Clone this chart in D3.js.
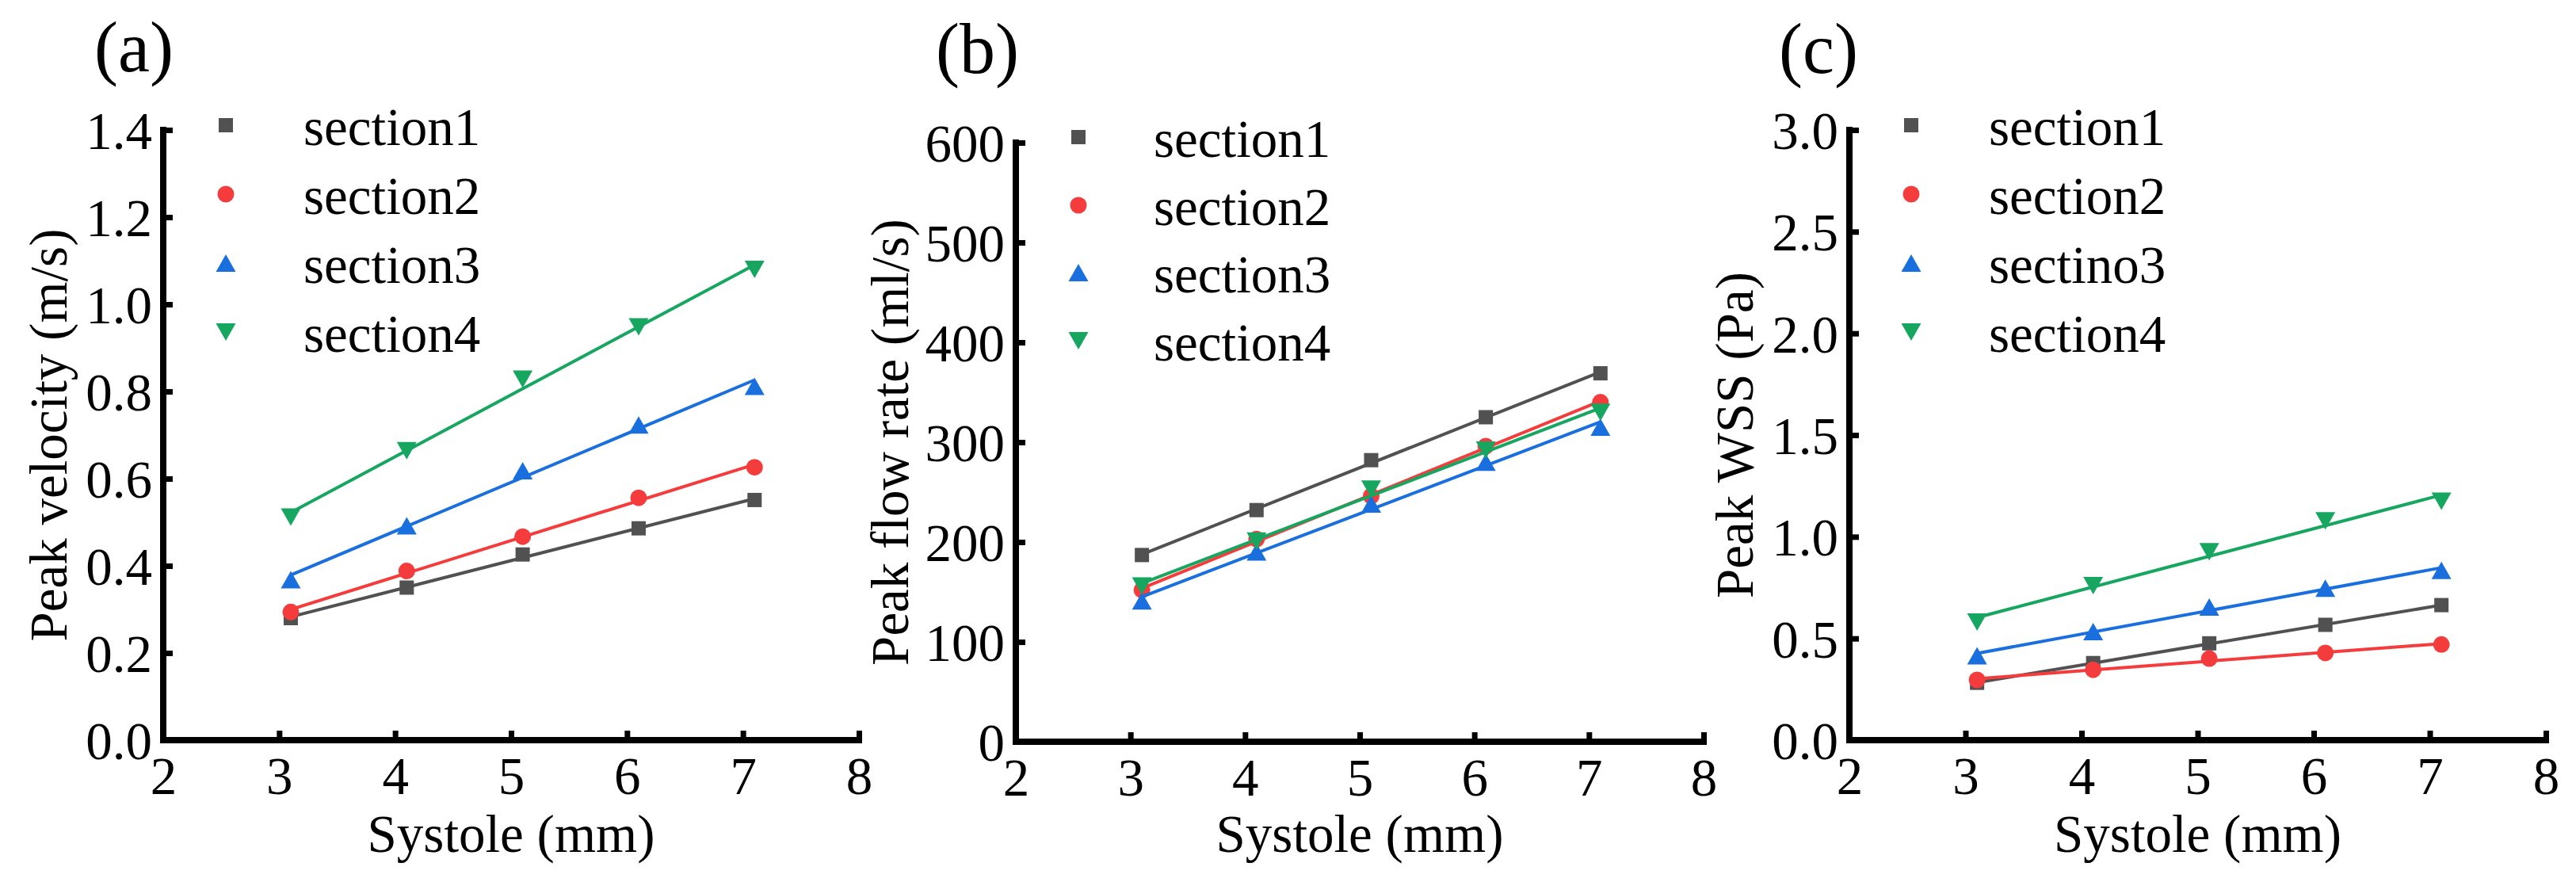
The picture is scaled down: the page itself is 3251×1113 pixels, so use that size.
<!DOCTYPE html>
<html>
<head>
<meta charset="utf-8">
<script src="https://cdn.jsdelivr.net/npm/d3@7"></script>
<style>
  html, body { margin: 0; padding: 0; background: #ffffff; }
  svg { display: block; }
  svg text { font-family: "Liberation Serif", "Tinos", "Times New Roman", Times, "DejaVu Serif", serif !important; fill: #000; }
</style>
</head>
<body>
<svg id="chart" width="3251" height="1113"></svg>
<script>
// ---------------- DATA ----------------
const systole = [3.1, 4.1, 5.1, 6.1, 7.1];
const xTickValues = [2, 3, 4, 5, 6, 7, 8];

const namesAB = ["section1", "section2", "section3", "section4"];
const namesC  = ["section1", "section2", "sectino3", "section4"];

// (a) Peak velocity (m/s)
const velocity1 = [0.280, 0.350, 0.426, 0.486, 0.551];
const velocity2 = [0.294, 0.388, 0.467, 0.556, 0.626];
const velocity3 = [0.368, 0.492, 0.618, 0.723, 0.812];
const velocity4 = [0.512, 0.664, 0.828, 0.948, 1.080];
const velocityTicks = [0.0, 0.2, 0.4, 0.6, 0.8, 1.0, 1.2, 1.4];

// (b) Peak flow rate (ml/s)
const flow1 = [187, 232, 282, 325, 369];
const flow2 = [152, 203, 246, 296, 340];
const flow3 = [141, 190, 238, 280, 315];
const flow4 = [156, 201, 253, 292, 330];
const flowTicks = [0, 100, 200, 300, 400, 500, 600];

// (c) Peak WSS (Pa)
const wss1 = [0.282, 0.379, 0.476, 0.567, 0.664];
const wss2 = [0.296, 0.346, 0.401, 0.429, 0.470];
const wss3 = [0.415, 0.534, 0.655, 0.747, 0.835];
const wss4 = [0.581, 0.760, 0.926, 1.078, 1.175];
const wssTicks = [0.0, 0.5, 1.0, 1.5, 2.0, 2.5, 3.0];

// ---------------- STYLE ----------------
const colors  = ["#515151", "#F53C3C", "#1A6FDF", "#17A660"];
const shapes  = ["square", "circle", "up", "down"];
const FONT = 67;
const FAMILY = '"Liberation Serif", "Tinos", "Times New Roman", Times, "DejaVu Serif", serif';

const panels = [
  { letter: "(a)", letterX: 119, letterY: 90,
    left: 206, right: 1084, top: 164, bottom: 934,
    yDomain: [0, 1.4], yTicks: velocityTicks, fmt: d3.format(".1f"),
    series: [velocity1, velocity2, velocity3, velocity4], names: namesAB,
    yTitle: "Peak velocity (m/s)", yTitleX: 84,
    legMarkerX: 285, legTextX: 383, legRows: [158, 245, 332, 419] },
  { letter: "(b)", letterX: 1181, letterY: 92,
    left: 1282, right: 2150, top: 180, bottom: 936,
    yDomain: [0, 600], yTicks: flowTicks, fmt: d3.format("d"),
    series: [flow1, flow2, flow3, flow4], names: namesAB,
    yTitle: "Peak flow rate (ml/s)", yTitleX: 1146,
    legMarkerX: 1361, legTextX: 1456, legRows: [173, 259, 344, 430] },
  { letter: "(c)", letterX: 2245, letterY: 92,
    left: 2334, right: 3213, top: 164, bottom: 934,
    yDomain: [0, 3.0], yTicks: wssTicks, fmt: d3.format(".1f"),
    series: [wss1, wss2, wss3, wss4], names: namesC,
    yTitle: "Peak WSS (Pa)", yTitleX: 2212,
    legMarkerX: 2412, legTextX: 2510, legRows: [158, 245, 332, 419] }
];

function linfit(xs, ys) {
  const mx = d3.mean(xs), my = d3.mean(ys);
  let sxy = 0, sxx = 0;
  xs.forEach((x, i) => { sxy += (x - mx) * (ys[i] - my); sxx += (x - mx) * (x - mx); });
  const b = sxy / sxx;
  return { slope: b, intercept: my - b * mx };
}

function markerPath(shape) {
  if (shape === "square") return "M-9,-9H9V9H-9Z";
  if (shape === "circle") return d3.symbol().type(d3.symbolCircle).size(Math.PI * 10.5 * 10.5)();
  if (shape === "up") return "M0,-11L12.5,11L-12.5,11Z";
  return "M0,11L12.5,-11L-12.5,-11Z";
}

const svg = d3.select("#chart").attr("font-family", FAMILY);

panels.forEach(p => {
  const g = svg.append("g");
  const x = d3.scaleLinear().domain([2, 8]).range([p.left, p.right]);
  const y = d3.scaleLinear().domain(p.yDomain).range([p.bottom, p.top]);

  // panel letter
  g.append("text").attr("x", p.letterX).attr("y", p.letterY)
    .attr("font-size", 90).attr("font-family", FAMILY).text(p.letter);

  // axes (ticks via d3)
  const xAxis = d3.axisBottom(x).tickValues(xTickValues).tickSize(-12).tickPadding(20)
    .tickFormat(d3.format("d"));
  const gx = g.append("g").attr("transform", `translate(0,${p.bottom})`).call(xAxis)
    .attr("font-family", FAMILY).attr("font-size", FONT);
  gx.select(".domain").remove();
  gx.selectAll(".tick line").attr("stroke", "#000").attr("stroke-width", 7);
  gx.selectAll(".tick text").attr("fill", "#000");

  const yAxis = d3.axisLeft(y).tickValues(p.yTicks).tickSize(-12).tickPadding(14)
    .tickFormat(p.fmt);
  const gy = g.append("g").attr("transform", `translate(${p.left},0)`).call(yAxis)
    .attr("font-family", FAMILY).attr("font-size", FONT);
  gy.select(".domain").remove();
  gy.selectAll(".tick line").attr("stroke", "#000").attr("stroke-width", 7);
  gy.selectAll(".tick text").attr("fill", "#000").attr("dy", "0.35em");

  // axis frame (left + bottom)
  g.append("path")
    .attr("d", `M${p.left},${y(p.yDomain[1])}V${y(p.yDomain[0])}H${x(8)}`)
    .attr("fill", "none").attr("stroke", "#000").attr("stroke-width", 8)
    .attr("stroke-linecap", "square").attr("stroke-linejoin", "miter");

  // titles
  g.append("text").attr("x", (p.left + p.right) / 2).attr("y", 1075)
    .attr("text-anchor", "middle").attr("font-size", FONT).attr("font-family", FAMILY)
    .text("Systole (mm)");
  g.append("text")
    .attr("transform", `translate(${p.yTitleX},${(p.top + p.bottom) / 2}) rotate(-90)`)
    .attr("text-anchor", "middle").attr("font-size", FONT).attr("font-family", FAMILY)
    .text(p.yTitle);

  // series: fit line + markers
  p.series.forEach((vals, i) => {
    const fit = linfit(systole, vals);
    const x0 = systole[0], x1 = systole[systole.length - 1];
    g.append("line")
      .attr("x1", x(x0)).attr("y1", y(fit.intercept + fit.slope * x0))
      .attr("x2", x(x1)).attr("y2", y(fit.intercept + fit.slope * x1))
      .attr("stroke", colors[i]).attr("stroke-width", 4);
    g.selectAll(null).data(vals).enter().append("path")
      .attr("d", markerPath(shapes[i]))
      .attr("transform", (d, j) => `translate(${x(systole[j])},${y(d)})`)
      .attr("fill", colors[i]);
  });

  // legend
  p.names.forEach((name, i) => {
    g.append("path").attr("d", markerPath(shapes[i]))
      .attr("transform", `translate(${p.legMarkerX},${p.legRows[i]})`)
      .attr("fill", colors[i]);
    g.append("text").attr("x", p.legTextX).attr("y", p.legRows[i] + 25)
      .attr("font-size", FONT).attr("font-family", FAMILY).text(name);
  });
});
</script>
</body>
</html>
